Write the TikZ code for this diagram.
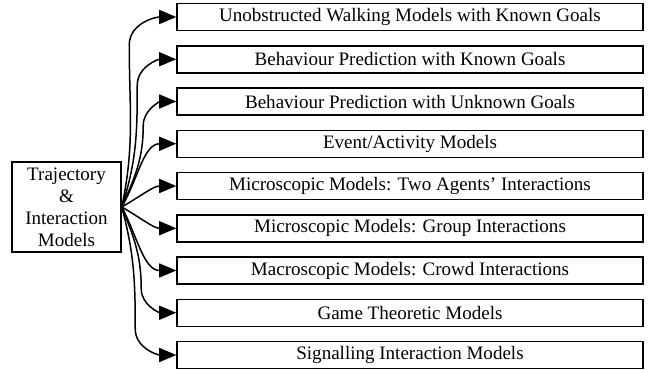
\documentclass[tikz,border=0pt]{standalone}
\usepackage{fontspec}
\setmainfont{Liberation Serif}
\usetikzlibrary{arrows.meta,calc}
\begin{document}
\begin{tikzpicture}[x=1bp,y=1bp,
  every node/.style={font=\fontsize{19.1}{22}\selectfont},
  catbox/.style={draw,line width=1.5bp,minimum width=466bp,minimum height=27bp,inner sep=0pt},
  rootbox/.style={draw,line width=1.5bp,minimum width=109bp,minimum height=90bp,inner sep=0pt,align=center},
  arr/.style={line width=1.5bp,-{Triangle[length=17bp,width=14bp]}}]
\useasboundingbox (0,0) rectangle (654,372);
\node[rootbox] (L) at (66.5,165) {Trajectory\\\&\\Interaction\\Models};
\node[catbox] (R0) at (410,355.00) {Unobstructed Walking Models with Known Goals};
\node[catbox] (R1) at (410,312.75) {Behaviour Prediction with Known Goals};
\node[catbox] (R2) at (410,270.50) {Behaviour Prediction with Unknown Goals};
\node[catbox] (R3) at (410,228.25) {Event/Activity Models};
\node[catbox] (R4) at (410,186.00) {Microscopic Models: Two Agents' Interactions};
\node[catbox] (R5) at (410,143.75) {Microscopic Models: Group Interactions};
\node[catbox] (R6) at (410,101.50) {Macroscopic Models: Crowd Interactions};
\node[catbox] (R7) at (410,59.25) {Game Theoretic Models};
\node[catbox] (R8) at (410,17.00) {Signalling Interaction Models};
\draw[arr] (L.east) to[out=78,in=-90] ($(R0.west)+(-47,-28)$) to[out=90,in=180] (R0.west);
\draw[arr] (L.east) to[out=72,in=-90] ($(R1.west)+(-39,-26)$) to[out=90,in=180] (R1.west);
\draw[arr] (L.east) to[out=66,in=-90] ($(R2.west)+(-33,-24)$) to[out=90,in=180] (R2.west);
\draw[arr] (L.east) to[out=60,in=180] (R3.west);
\draw[arr] (L.east) to[out=30,in=180] (R4.west);
\draw[arr] (L.east) to[out=-30,in=180] (R5.west);
\draw[arr] (L.east) to[out=-62,in=180] (R6.west);
\draw[arr] (L.east) to[out=-68,in=90] ($(R7.west)+(-35,24)$) to[out=-90,in=180] (R7.west);
\draw[arr] (L.east) to[out=-75,in=90] ($(R8.west)+(-41,26)$) to[out=-90,in=180] (R8.west);
\end{tikzpicture}
\end{document}
